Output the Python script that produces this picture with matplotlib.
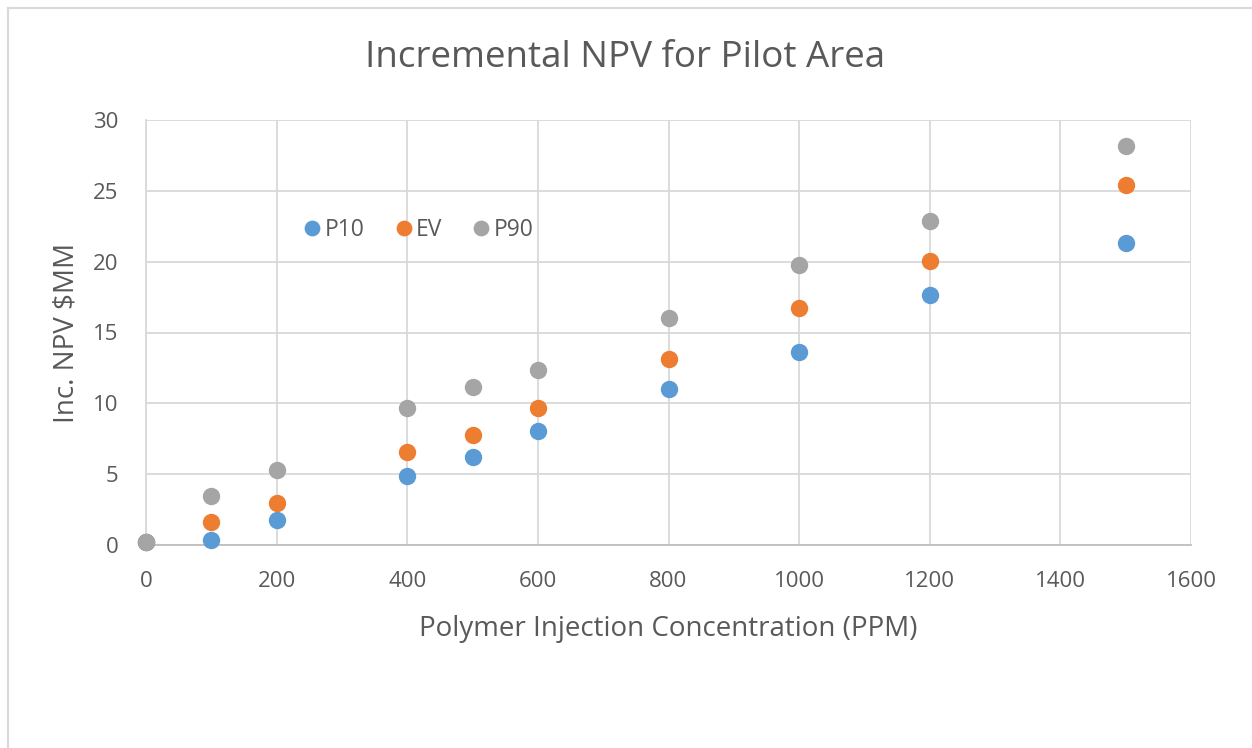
import matplotlib.pyplot as plt
from matplotlib.lines import Line2D

# Polymer concentration (PPM) and incremental NPV ($MM)
ppm = [0, 100, 200, 400, 500, 600, 800, 1000, 1200, 1500]
p10 = [0.2, 0.35, 1.75, 4.9, 6.2, 8.05, 11.0, 13.6, 17.65, 21.3]
ev = [0.2, 1.6, 2.95, 6.6, 7.75, 9.7, 13.1, 16.7, 20.05, 25.4]
p90 = [0.2, 3.45, 5.3, 9.7, 11.15, 12.35, 16.0, 19.75, 22.9, 28.2]

series = [('P10', p10, '#5B9BD5'), ('EV', ev, '#ED7D31'), ('P90', p90, '#A5A5A5')]

plt.rcParams['font.family'] = ['Open Sans', 'DejaVu Sans']
txt = '#595959'
grid = '#D9D9D9'

fig = plt.figure(figsize=(12.52, 7.48), dpi=100)
ax = fig.add_axes([146 / 1252, 1 - 545 / 748, (1191 - 146) / 1252, (545 - 120) / 748])

for name, vals, col in series:
    ax.plot(ppm, vals, 'o', color=col, markersize=11.5, label=name, zorder=3, clip_on=False)

ax.set_xlim(0, 1600)
ax.set_ylim(0, 30)
ax.set_xticks(range(0, 1601, 200))
ax.set_yticks(range(0, 31, 5))
ax.grid(True, color=grid, linewidth=1.3)
ax.set_axisbelow(True)
for s in ax.spines.values():
    s.set_visible(False)
ax.spines['bottom'].set_visible(True)
ax.spines['bottom'].set_color('#BFBFBF')
ax.spines['bottom'].set_linewidth(1.3)
ax.spines['left'].set_visible(True)
ax.spines['left'].set_color(grid)
ax.spines['left'].set_linewidth(1.3)
ax.tick_params(length=0, labelsize=16, labelcolor=txt)
ax.tick_params(axis='x', pad=19)
ax.tick_params(axis='y', pad=20)

ax.set_xlabel('Polymer Injection Concentration (PPM)', fontsize=20, color=txt, labelpad=16)
ax.set_ylabel('Inc. NPV $MM', fontsize=20, color=txt, labelpad=9)
fig.text(625 / 1252, 1 - 58 / 748, 'Incremental NPV for Pilot Area', ha='center', va='center',
         fontsize=26.5, color=txt)

ax.legend(loc='center left', bbox_to_anchor=(280 / 1252, 1 - 230 / 748), bbox_transform=fig.transFigure,
          ncol=3, frameon=False, fontsize=16.5, labelcolor=txt, handletextpad=0.05, columnspacing=1.2,
          handlelength=1.0, markerscale=0.9)

# chart border
fig.add_artist(Line2D([8 / 1252, 8 / 1252], [0, 1 - 8 / 748], color='#D9D9D9', linewidth=1.5))
fig.add_artist(Line2D([8 / 1252, 1], [1 - 8 / 748, 1 - 8 / 748], color='#D9D9D9', linewidth=1.5))

fig.savefig('out.png', dpi=100)
